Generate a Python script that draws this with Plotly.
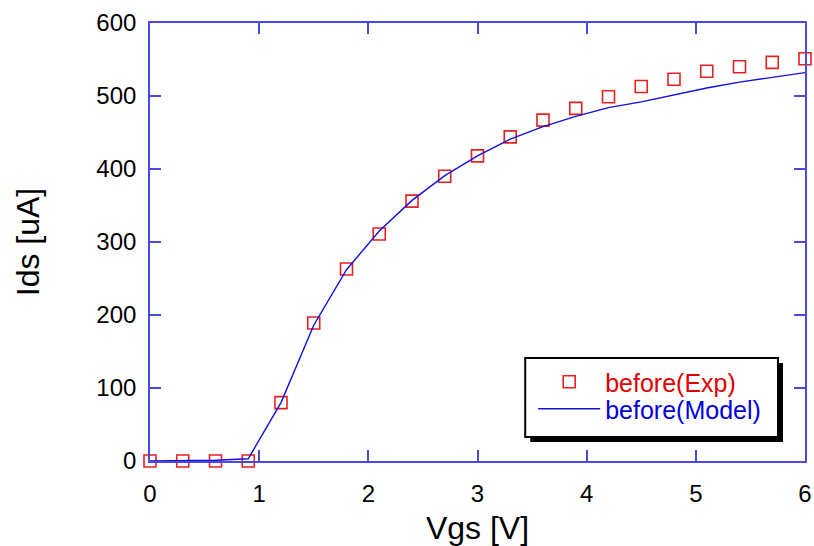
import plotly.graph_objects as go

# Gate voltage sweep [V]
vgs = [0.0, 0.3, 0.6, 0.9, 1.2, 1.5, 1.8, 2.1, 2.4, 2.7, 3.0,
       3.3, 3.6, 3.9, 4.2, 4.5, 4.8, 5.1, 5.4, 5.7, 6.0]

# Measured drain current [uA]
ids_exp = [0, 0, 0, 0, 80, 189, 263, 311, 356, 390, 418,
           444, 467, 483, 499, 513, 523, 534, 540, 546, 551]

# Model drain current [uA]
ids_model = [0, 0, 1, 3, 80, 186, 262, 315, 357, 391, 418,
             441, 458, 472, 484, 492, 502, 511, 519, 526, 532]

FONT = "Arial, Liberation Sans, sans-serif"
AXIS_BLUE = "#4a4ae0"

W, H = 814, 546
L, R, T, B = 149.5, 805, 23, 461


def px(x):
    return (x - L) / (R - L)


def py(y):
    return (B - y) / (B - T)


fig = go.Figure()

fig.add_trace(go.Scatter(
    x=vgs, y=ids_exp, mode="markers",
    name="<span style='color:#e00000'>before(Exp)</span>",
    marker=dict(symbol="square-open", size=12, color="#e82020",
                line=dict(width=1.6, color="#e82020")),
    cliponaxis=False, legend="legend",
))

fig.add_trace(go.Scatter(
    x=vgs, y=ids_model, mode="lines",
    name="<span style='color:#0000e0'>before(Model)</span>",
    line=dict(color="#1010e0", width=1.4),
    cliponaxis=False, legend="legend2",
))

# Legend frame with a drop shadow
box = (525, 358, 778, 437)
shadow = 5
fig.add_shape(type="rect", xref="paper", yref="paper",
              x0=px(box[0] + shadow), x1=px(box[2] + shadow),
              y0=py(box[1] + shadow), y1=py(box[3] + shadow),
              fillcolor="black", line=dict(width=0), layer="above")
fig.add_shape(type="rect", xref="paper", yref="paper",
              x0=px(box[0]), x1=px(box[2]),
              y0=py(box[1]), y1=py(box[3]),
              fillcolor="white", line=dict(color="black", width=2), layer="above")

axis_common = dict(
    showgrid=False, zeroline=False, showline=True, linecolor=AXIS_BLUE,
    linewidth=1.6, mirror="ticks", ticks="inside", ticklen=11,
    tickcolor=AXIS_BLUE, tickwidth=1.6, automargin=False,
    tickfont=dict(family=FONT, size=24, color="black"),
)

legend_common = dict(xanchor="left", yanchor="middle",
                     bgcolor="rgba(0,0,0,0)", borderwidth=0,
                     font=dict(family=FONT, size=25), itemwidth=62)

fig.update_layout(
    width=W, height=H,
    margin=dict(l=L, r=W - R, t=T, b=H - B, pad=0),
    paper_bgcolor="white", plot_bgcolor="white",
    xaxis=dict(range=[0, 6], dtick=1, tick0=0, ticklabelstandoff=10,
               title=dict(text="Vgs [V]", font=dict(family=FONT, size=32, color="black"),
                          standoff=16),
               **axis_common),
    yaxis=dict(range=[0, 600], dtick=100, tick0=0, ticklabelstandoff=7,
               title=dict(text="Ids [uA]", font=dict(family=FONT, size=32, color="black"),
                          standoff=47),
               **axis_common),
    showlegend=True,
    legend=dict(x=px(533), y=py(382), **legend_common),
    legend2=dict(x=px(533), y=py(409), **legend_common),
)

fig.write_html("out.html")
